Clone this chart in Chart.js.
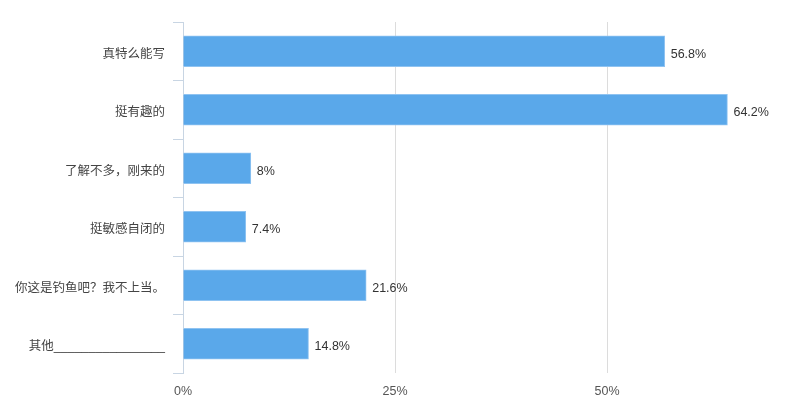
<!DOCTYPE html>
<html>
<head>
<meta charset="utf-8">
<script src="https://cdn.jsdelivr.net/npm/chart.js@4/dist/chart.umd.min.js"></script>
<style>
  html, body { margin: 0; padding: 0; background: #fff; }
  #wrap { width: 808px; height: 417px; }
</style>
</head>
<body>
<div id="wrap"><canvas id="grafico" width="808" height="417"></canvas></div>
<script>
// dados
const categorias = [
  "真特么能写",
  "挺有趣的",
  "了解不多，刚来的",
  "挺敏感自闭的",
  "你这是钓鱼吧？我不上当。",
  "其他________________"
];
const percentuais = [56.8, 64.2, 8, 7.4, 21.6, 14.8];
const ticksX = [0, 25, 50];

const fonte = '"Liberation Sans", Arial, "Noto Sans CJK SC", sans-serif';

// rótulos de valor à direita das barras
const rotulosValor = {
  id: "rotulosValor",
  afterDatasetsDraw(chart) {
    const ctx = chart.ctx;
    const meta = chart.getDatasetMeta(0);
    ctx.save();
    ctx.font = "12.5px " + fonte;
    ctx.fillStyle = "#333";
    ctx.textAlign = "left";
    ctx.textBaseline = "middle";
    meta.data.forEach((bar, i) => {
      ctx.fillText(percentuais[i] + "%", bar.x + 6, bar.y + 3);
    });
    ctx.restore();
  }
};

new Chart(document.getElementById("grafico").getContext("2d"), {
  type: "bar",
  data: {
    labels: categorias,
    datasets: [{
      data: percentuais,
      backgroundColor: "#5aa8ea",
      borderColor: "#8fc3f1",
      borderWidth: 1,
      barThickness: 31
    }]
  },
  options: {
    indexAxis: "y",
    responsive: false,
    animation: false,
    layout: { padding: { top: 22, right: 0, left: 0, bottom: 0 } },
    plugins: {
      legend: { display: false },
      tooltip: { enabled: false }
    },
    scales: {
      x: {
        min: 0,
        max: 73.7,
        afterBuildTicks: (scale) => {
          scale.ticks = ticksX.map(v => ({ value: v }));
        },
        afterFit: (scale) => { scale.height = 44; },
        border: { display: false },
        grid: {
          drawTicks: false,
          color: (c) => (c.tick && c.tick.value === 0) ? "rgba(0,0,0,0)" : "#dcdcdc"
        },
        ticks: {
          padding: 11,
          color: "#555",
          font: { size: 12.5, family: fonte },
          callback: (v) => v + "%"
        }
      },
      y: {
        afterFit: (scale) => { scale.width = 183; },
        border: { display: true, color: "#c8d5e3" },
        grid: {
          offset: true,
          drawOnChartArea: false,
          tickLength: 10,
          color: "#c8d5e3"
        },
        ticks: {
          padding: 8,
          labelOffset: 3,
          color: "#444",
          font: { size: 12.5, family: fonte }
        }
      }
    }
  },
  plugins: [rotulosValor]
});
</script>
</body>
</html>
